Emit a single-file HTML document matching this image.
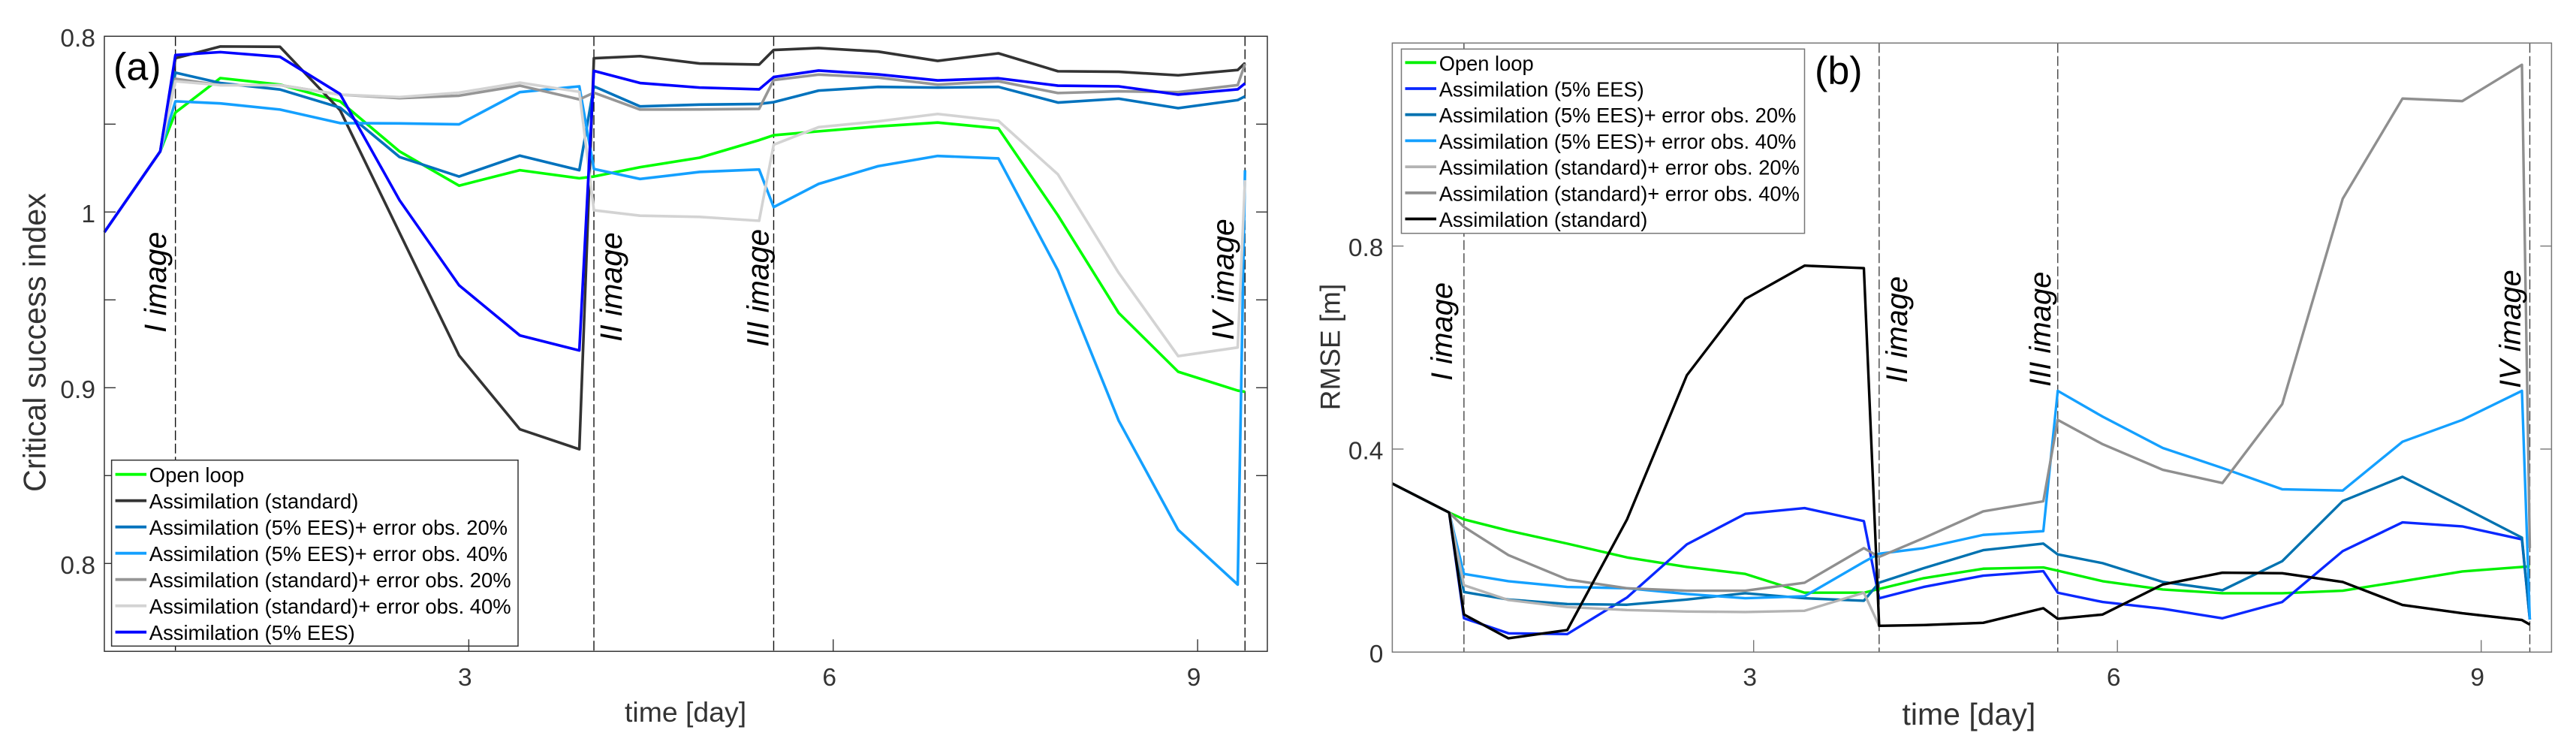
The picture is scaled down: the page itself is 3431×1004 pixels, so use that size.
<!DOCTYPE html>
<html lang="en">
<head>
<meta charset="utf-8">
<title>Critical success index and RMSE over time</title>
<style>
html,body{margin:0;padding:0;background:#fff;width:3431px;height:1004px;overflow:hidden}
svg{display:block}
text{font-family:"Liberation Sans",sans-serif}
</style>
</head>
<body>
<svg id="figure" xmlns="http://www.w3.org/2000/svg" width="3431" height="1004" viewBox="0 0 3431 1004">
  <rect width="3431" height="1004" fill="#fff"/>
  <g id="panel-a"></g>
  <g id="panel-b"></g>
</svg>
<script>
// ---------- Panel (a) data ----------
const daysA = [0,0.46,0.585,0.955,1.446,1.94,2.43,2.92,3.42,3.91,4.03,4.41,4.90,5.39,5.51,5.88,6.37,6.86,7.36,7.85,8.35,8.84,9.33,9.39];
const openLoopA = [0.9885,1.0345,1.0566,1.0762,1.0725,1.063,1.0345,1.015,1.0238,1.0192,1.0202,1.0255,1.0309,1.0409,1.0437,1.0459,1.0487,1.0509,1.0476,0.9981,0.9426,0.9091,0.8984,0.8977];
const standardA = [0.9885,1.0345,1.0875,1.0942,1.094,1.058,0.9882,0.9184,0.8764,0.865,1.0875,1.0887,1.0845,1.0839,1.0922,1.0933,1.0913,1.086,1.0903,1.0801,1.0798,1.0778,1.0808,1.0848];
const ees20A = [0.9885,1.0345,1.0793,1.0734,1.0697,1.0594,1.0313,1.0202,1.0321,1.0238,1.0715,1.0601,1.0611,1.0615,1.0625,1.0691,1.0712,1.0708,1.0712,1.0623,1.0645,1.0591,1.0637,1.0658];
const ees40A = [0.9885,1.0345,1.063,1.0618,1.0583,1.0506,1.0504,1.0499,1.0682,1.0715,1.0245,1.0188,1.0228,1.0242,1.0028,1.016,1.0261,1.0319,1.0305,0.9668,0.8813,0.8191,0.788,1.0238];
const standard20A = [0.9885,1.0345,1.0758,1.0722,1.0722,1.0668,1.0648,1.0662,1.0719,1.0641,1.0679,1.0583,1.0584,1.0587,1.0751,1.0782,1.0765,1.0725,1.0744,1.0677,1.0687,1.0682,1.0722,1.0843];
const standard40A = [0.9885,1.0345,1.0744,1.0722,1.0722,1.0668,1.0654,1.0679,1.0736,1.0684,1.001,0.9979,0.9972,0.995,1.0383,1.0483,1.0516,1.0558,1.0519,1.0214,0.9654,0.918,0.9229,1.0181];
const eesA = [0.9885,1.0345,1.0893,1.091,1.0883,1.0672,1.0067,0.9583,0.9298,0.9212,1.0803,1.0734,1.0708,1.0698,1.0768,1.0805,1.0783,1.0749,1.0761,1.0719,1.0715,1.0668,1.0698,1.0732];
const yTicksA = [1.1,1.05,1,0.95,0.9,0.85,0.8];
const yTickLabelsA = ["0.8","","1","","0.9","","0.8"];
const xTicksA = [3,6,9];
const xTickLabelsA = ["3","6","9"];
const imageDaysA = [0.585,4.03,5.51,9.39];
const legendLabelsA = ["Open loop","Assimilation (standard)","Assimilation (5% EES)+ error obs. 20%","Assimilation (5% EES)+ error obs. 40%","Assimilation (standard)+ error obs. 20%","Assimilation (standard)+ error obs. 40%","Assimilation (5% EES)"];

// ---------- Panel (b) data ----------
const daysB = [0.02,0.489,0.611,0.978,1.463,1.956,2.449,2.931,3.42,3.909,4.035,4.401,4.893,5.389,5.508,5.878,6.374,6.866,7.359,7.858,8.351,8.844,9.336,9.401];
const openLoopB = [0.3321,0.2749,0.2615,0.2393,0.2137,0.1865,0.1678,0.154,0.117,0.117,0.1244,0.1456,0.1643,0.1668,0.1604,0.1397,0.1234,0.116,0.116,0.1209,0.1397,0.1589,0.1678,0.1688];
const eesB = [0.3321,0.2749,0.0666,0.037,0.0355,0.1076,0.2122,0.2724,0.2837,0.2581,0.1061,0.1283,0.1505,0.1594,0.117,0.0987,0.0854,0.0666,0.0987,0.1989,0.2556,0.2477,0.2221,0.0642];
const ees20B = [0.3321,0.2749,0.1184,0.1036,0.0947,0.0933,0.1036,0.116,0.1061,0.1012,0.1367,0.1653,0.2008,0.2137,0.1925,0.1752,0.1382,0.1219,0.1791,0.2976,0.3454,0.2862,0.2255,0.0642];
const ees40B = [0.3321,0.2749,0.154,0.1397,0.1283,0.1258,0.1145,0.1061,0.11,0.1776,0.1939,0.2048,0.2309,0.2383,0.5147,0.4639,0.4022,0.3627,0.3208,0.3183,0.4145,0.4574,0.5147,0.0642];
const standard20B = [0.3321,0.2749,0.1318,0.1026,0.0888,0.0829,0.0799,0.079,0.0814,0.117,0.0518,0.0533,0.0577,0.0864,0.0656,0.074,0.1332,0.1564,0.1554,0.1382,0.0928,0.0765,0.0632,0.0543];
const standard40B = [0.3321,0.2749,0.2467,0.191,0.1431,0.1258,0.1209,0.1209,0.1367,0.2048,0.1875,0.2245,0.2773,0.2971,0.4574,0.4096,0.3592,0.3331,0.4885,0.8932,1.0906,1.0856,1.1572,0.2048];
const standardB = [0.3321,0.2749,0.074,0.0271,0.0434,0.2615,0.5453,0.6958,0.7614,0.7565,0.0518,0.0533,0.0577,0.0864,0.0656,0.074,0.1332,0.1564,0.1554,0.1382,0.0928,0.0765,0.0632,0.0543];
const yTicksB = [0,0.4,0.8];
const yTickLabelsB = ["0","0.4","0.8"];
const xTicksB = [3,6,9];
const xTickLabelsB = ["3","6","9"];
const imageDaysB = [0.611,4.035,5.508,9.401];
const legendLabelsB = ["Open loop","Assimilation (5% EES)","Assimilation (5% EES)+ error obs. 20%","Assimilation (5% EES)+ error obs. 40%","Assimilation (standard)+ error obs. 20%","Assimilation (standard)+ error obs. 40%","Assimilation (standard)"];

const imageNames = ["I image","II image","III image","IV image"];

const SVGNS = "http://www.w3.org/2000/svg";
function make(parent, tag, attrs, txt) {
  const el = document.createElementNS(SVGNS, tag);
  for (const k in attrs) el.setAttribute(k, attrs[k]);
  if (txt !== undefined) el.textContent = txt;
  parent.appendChild(el);
  return el;
}
function slug(s) {
  return s.toLowerCase().replace(/%/g, '').replace(/[^a-z0-9]+/g, '-').replace(/^-|-$/g, '');
}

function drawPanel(root, cfg) {
  const xOf = t => cfg.left + (t - cfg.xMin) * (cfg.right - cfg.left) / (cfg.xMax - cfg.xMin);
  const yOf = v => cfg.bottom - (v - cfg.yMin) * (cfg.bottom - cfg.top) / (cfg.yMax - cfg.yMin);

  // vertical dashed image markers
  cfg.imageDays.forEach((d) => {
    const el = make(root, 'line', {x1: xOf(d), x2: xOf(d), y1: cfg.top, y2: cfg.bottom, stroke: cfg.dashColor, 'stroke-width': 1.4, 'stroke-dasharray': '13 4.5'});
    
    
  });

  // series
  cfg.series.forEach((s) => {
    const pts = s.values.map((v, i) => xOf(cfg.days[i]).toFixed(2) + ',' + yOf(v).toFixed(2)).join(' ');
    const el = make(root, 'polyline', {points: pts, fill: 'none', stroke: s.color, 'stroke-width': s.width || cfg.lineWidth, 'stroke-linejoin': 'round', 'stroke-linecap': 'butt'});
    
    
  });

  // y ticks (left and right)
  cfg.yTicks.forEach((v, i) => {
    const y = yOf(v);
    if (y > cfg.top + 1 && y < cfg.bottom - 1) {
      const l = make(root, 'line', {x1: cfg.left, x2: cfg.left + 15, y1: y, y2: y, stroke: cfg.axisColor, 'stroke-width': 1.4});
      
      
      const r = make(root, 'line', {x1: cfg.right - 15, x2: cfg.right, y1: y, y2: y, stroke: cfg.axisColor, 'stroke-width': 1.4});
      
      
    }
    if (cfg.yTickLabels[i]) {
      const t = make(root, 'text', {x: cfg.left - 12, y: y + 13.5, 'text-anchor': 'end', 'font-size': 33.5, fill: cfg.textColor}, cfg.yTickLabels[i]);
      
      
    }
  });

  // legend
  const lg = make(root, 'g', {});
  
  
  const box = make(lg, 'rect', {x: cfg.legend.x, y: cfg.legend.y, width: cfg.legend.w, height: cfg.legend.h, fill: '#fff', stroke: cfg.axisColor, 'stroke-width': 1.5});
  
  
  cfg.legendLabels.forEach((label, i) => {
    const s = cfg.series.find(q => q.label === label);
    const y = cfg.legend.firstRow + i * cfg.legend.rowGap;
    const entry = make(lg, 'g', {});
    
    
    const sw = make(entry, 'line', {x1: cfg.legend.x + 5, x2: cfg.legend.x + 46.5, y1: y, y2: y, stroke: s.color, 'stroke-width': 3.8});
    
    
    const t = make(entry, 'text', {x: cfg.legend.x + 50.2, y: y + 10.5, 'font-size': cfg.legend.font, fill: '#000'}, label);
    
    
  });

  // x ticks
  cfg.xTicks.forEach((d, i) => {
    const l = make(root, 'line', {x1: xOf(d), x2: xOf(d), y1: cfg.bottom - 16, y2: cfg.bottom, stroke: cfg.axisColor, 'stroke-width': 1.4});
    
    
    const t = make(root, 'text', {x: xOf(d) - 5, y: 913, 'text-anchor': 'middle', 'font-size': 33.5, fill: cfg.textColor}, cfg.xTickLabels[i]);
    
    
  });

  // frame
  const frame = make(root, 'rect', {x: cfg.left, y: cfg.top, width: cfg.right - cfg.left, height: cfg.bottom - cfg.top, fill: 'none', stroke: cfg.axisColor, 'stroke-width': 1.5});
  
  

  // image labels
  imageNames.forEach((name, i) => {
    const p = cfg.imageLabels[i];
    const t = make(root, 'text', {transform: 'translate(' + p[0] + ',' + p[1] + ') rotate(-90)', 'font-size': cfg.imageFont, 'font-style': 'italic', fill: '#000'}, name);
    
    
  });

  // panel letter
  const letter = make(root, 'text', {x: cfg.letter.x, y: cfg.letter.y, 'font-size': 52, fill: '#000'}, cfg.letter.text);
  
  

  // axis titles
  const xt = make(root, 'text', {x: cfg.xTitle.x, y: cfg.xTitle.y, 'font-size': cfg.xTitle.font, fill: cfg.textColor}, 'time [day]');
  
  
  const yt = make(root, 'text', {transform: 'translate(' + cfg.yTitle.x + ',' + cfg.yTitle.y + ') rotate(-90)', 'text-anchor': 'middle', 'font-size': cfg.yTitle.font, fill: cfg.textColor}, cfg.yTitle.text);
  
  
}

drawPanel(document.getElementById('panel-a'), {
  left: 139, right: 1688, top: 48.3, bottom: 867.3,
  xMin: 0, xMax: 9.574, yMin: 0.75, yMax: 1.1,
  days: daysA, imageDays: imageDaysA,
  yTicks: yTicksA, yTickLabels: yTickLabelsA, xTicks: xTicksA, xTickLabels: xTickLabelsA,
  axisColor: '#333', textColor: '#333', dashColor: '#111', lineWidth: 3.6,
  series: [
    {label: legendLabelsA[0], values: openLoopA, color: '#00ff00'},
    {label: legendLabelsA[1], values: standardA, color: '#333333'},
    {label: legendLabelsA[2], values: ees20A, color: '#0072bd'},
    {label: legendLabelsA[3], values: ees40A, color: '#14a0ff'},
    {label: legendLabelsA[4], values: standard20A, color: '#969696'},
    {label: legendLabelsA[5], values: standard40A, color: '#d3d3d3'},
    {label: legendLabelsA[6], values: eesA, color: '#0000ff'}
  ],
  legendLabels: legendLabelsA,
  legend: {x: 148.6, y: 612.7, w: 541.4, h: 247.6, firstRow: 631.7, rowGap: 35, font: 27.4},
  imageLabels: [[221, 443], [828, 455], [1023.5, 462], [1643, 453]],
  imageFont: 41,
  letter: {x: 151, y: 106.7, text: '(a)'},
  xTitle: {x: 832, y: 961, font: 37.4},
  yTitle: {x: 60.3, y: 456, font: 41.4, text: 'Critical success index'}
});

drawPanel(document.getElementById('panel-b'), {
  left: 1854.4, right: 3398.4, top: 57.3, bottom: 868.3,
  xMin: 0.02, xMax: 9.58, yMin: 0, yMax: 1.2,
  days: daysB, imageDays: imageDaysB,
  yTicks: yTicksB, yTickLabels: yTickLabelsB, xTicks: xTicksB, xTickLabels: xTickLabelsB,
  axisColor: '#777', textColor: '#333', dashColor: '#444', lineWidth: 3.4,
  series: [
    {label: legendLabelsB[0], values: openLoopB, color: '#00f000'},
    {label: legendLabelsB[1], values: eesB, color: '#0a28ff'},
    {label: legendLabelsB[2], values: ees20B, color: '#0072b0'},
    {label: legendLabelsB[3], values: ees40B, color: '#14a0ff'},
    {label: legendLabelsB[4], values: standard20B, color: '#b3b3b3'},
    {label: legendLabelsB[5], values: standard40B, color: '#8f8f8f'},
    {label: legendLabelsB[6], values: standardB, color: '#000000'}
  ],
  legendLabels: legendLabelsB,
  legend: {x: 1866.5, y: 65.3, w: 537, h: 245.4, firstRow: 83.3, rowGap: 34.7, font: 27.3},
  imageLabels: [[1934, 507], [2540, 510], [2731, 515], [3357, 517]],
  imageFont: 40,
  letter: {x: 2417, y: 111.7, text: '(b)'},
  xTitle: {x: 2533.5, y: 965, font: 41},
  yTitle: {x: 1784.7, y: 462, font: 37, text: 'RMSE [m]'}
});
</script>
</body>
</html>
